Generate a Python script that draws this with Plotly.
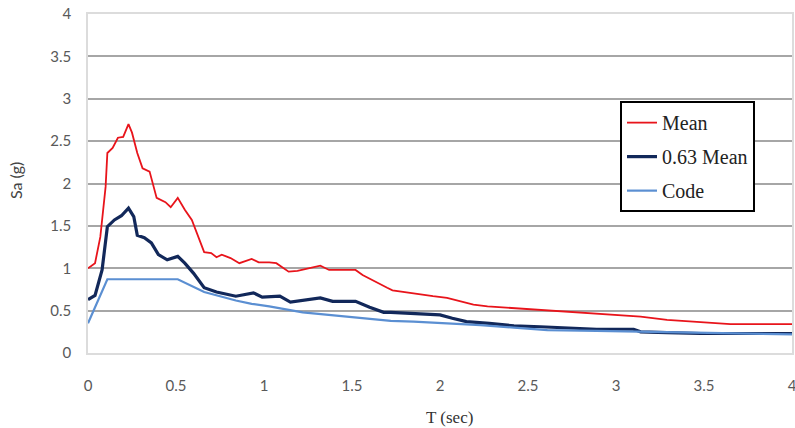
import plotly.graph_objects as go

# Mean spectrum
mean_T = [0, 0.04, 0.07, 0.10, 0.11, 0.14, 0.17, 0.20, 0.23, 0.25, 0.28, 0.31, 0.35, 0.39, 0.44,
          0.47, 0.51, 0.55, 0.59, 0.62, 0.66, 0.70, 0.73, 0.76, 0.81, 0.86, 0.93, 0.97, 1.03, 1.07,
          1.14, 1.19, 1.26, 1.32, 1.37, 1.52, 1.56, 1.64, 1.70, 1.73, 1.85, 1.96, 2.04, 2.11, 2.19,
          2.27, 2.42, 2.57, 2.72, 2.89, 3.0, 3.14, 3.29, 3.48, 3.65, 4.0]
mean_Sa = [1.0, 1.06, 1.37, 1.96, 2.36, 2.42, 2.54, 2.55, 2.70, 2.60, 2.36, 2.18, 2.14, 1.83, 1.78,
           1.72, 1.83, 1.69, 1.57, 1.41, 1.19, 1.18, 1.13, 1.16, 1.12, 1.06, 1.11, 1.07, 1.07, 1.06,
           0.96, 0.97, 1.00, 1.03, 0.98, 0.98, 0.92, 0.83, 0.77, 0.74, 0.70, 0.67, 0.65, 0.61, 0.57,
           0.55, 0.53, 0.51, 0.49, 0.47, 0.45, 0.43, 0.39, 0.36, 0.34, 0.34]

# 0.63 Mean spectrum
m63_T = [0, 0.04, 0.08, 0.11, 0.15, 0.19, 0.23, 0.26, 0.28, 0.32, 0.36, 0.40, 0.45, 0.51, 0.55,
         0.60, 0.66, 0.73, 0.84, 0.94, 0.99, 1.09, 1.15, 1.22, 1.32, 1.39, 1.52, 1.60, 1.68, 1.72,
         1.85, 2.00, 2.07, 2.15, 2.28, 2.42, 2.57, 2.72, 2.89, 3.10, 3.14, 3.29, 3.48, 3.67, 3.86, 4.0]
m63_Sa = [0.63, 0.68, 0.98, 1.49, 1.57, 1.62, 1.71, 1.61, 1.39, 1.36, 1.30, 1.16, 1.10, 1.14, 1.06,
          0.94, 0.77, 0.72, 0.67, 0.71, 0.66, 0.67, 0.60, 0.62, 0.65, 0.61, 0.61, 0.54, 0.48, 0.48,
          0.47, 0.45, 0.41, 0.37, 0.35, 0.32, 0.31, 0.30, 0.28, 0.28, 0.25, 0.24, 0.23, 0.23, 0.23, 0.23]

# Code spectrum
code_T = [0, 0.11, 0.51, 0.61, 0.66, 0.75, 0.84, 0.93, 1.03, 1.22, 1.41, 1.60, 1.72, 1.85, 2.04,
          2.23, 2.42, 2.61, 2.89, 3.14, 3.5, 3.75, 4.0]
code_Sa = [0.35, 0.87, 0.87, 0.77, 0.72, 0.67, 0.62, 0.58, 0.55, 0.48, 0.44, 0.40, 0.38, 0.37, 0.35,
           0.33, 0.30, 0.27, 0.26, 0.25, 0.24, 0.23, 0.22]

x_ticks = [0, 0.5, 1, 1.5, 2, 2.5, 3, 3.5, 4]
x_labels = ["0", "0.5", "1", "1.5", "2", "2.5", "3", "3.5", "4"]
y_ticks = [0, 0.5, 1, 1.5, 2, 2.5, 3, 3.5, 4]
y_labels = ["0", "0.5", "1", "1.5", "2", "2.5", "3", "3.5", "4"]

x_title = "T (sec)"
y_title = "Sa (g)"

fig = go.Figure()
fig.add_trace(go.Scatter(x=mean_T, y=mean_Sa, mode="lines", name="Mean",
                         line=dict(color="#e8141b", width=1.8), legendgroup="a"))
fig.add_trace(go.Scatter(x=m63_T, y=m63_Sa, mode="lines", name="0.63 Mean",
                         line=dict(color="#12285a", width=3.2), legendgroup="b"))
fig.add_trace(go.Scatter(x=code_T, y=code_Sa, mode="lines", name="Code",
                         line=dict(color="#5b8fd2", width=2.2), legendgroup="c"))

tick_font = dict(family="Lato, Open Sans, sans-serif", size=15, color="#595959")
serif = "Liberation Serif, Times New Roman, serif"

fig.update_layout(
    width=795, height=428,
    margin=dict(l=88, r=3, t=14, b=75, autoexpand=False),
    paper_bgcolor="white", plot_bgcolor="white",
    showlegend=True,
    legend=dict(
        x=0.7557, y=0.743, xanchor="left", yanchor="top",
        bgcolor="white", bordercolor="black", borderwidth=2,
        font=dict(family=serif, size=20, color="#222222"),
        tracegroupgap=5,
    ),
    xaxis=dict(
        range=[0, 4], tickvals=x_ticks, ticktext=x_labels, automargin=False,
        showgrid=False, zeroline=False, ticklabeloverflow="allow",
        showline=True, linecolor="#dcdcdc", linewidth=1.5, mirror=True,
        ticks="", tickfont=tick_font, ticklabelstandoff=18,
    ),
    yaxis=dict(
        range=[0, 4], tickvals=y_ticks, ticktext=y_labels, automargin=False,
        showgrid=True, gridcolor="#a6a6a6", gridwidth=1.5, ticklabeloverflow="allow",
        zeroline=True, zerolinecolor="#8c8c8c", zerolinewidth=2,
        showline=True, linecolor="#dcdcdc", linewidth=1.5, mirror=True,
        ticks="", tickfont=tick_font, ticklabelstandoff=12,
    ),
    annotations=[
        dict(text=x_title, xref="paper", yref="paper", x=0.514, y=-0.189,
             xanchor="center", yanchor="middle", showarrow=False,
             font=dict(family=serif, size=17, color="#333333")),
        dict(text=y_title, xref="paper", yref="paper", x=-0.1037, y=0.51,
             xanchor="center", yanchor="middle", showarrow=False, textangle=-90,
             font=dict(family="Lato, Open Sans, sans-serif", size=16, color="#444444")),
    ],
)

fig.write_html("out.html", config={"displayModeBar": False},
               post_script="document.body.style.margin='0';")
